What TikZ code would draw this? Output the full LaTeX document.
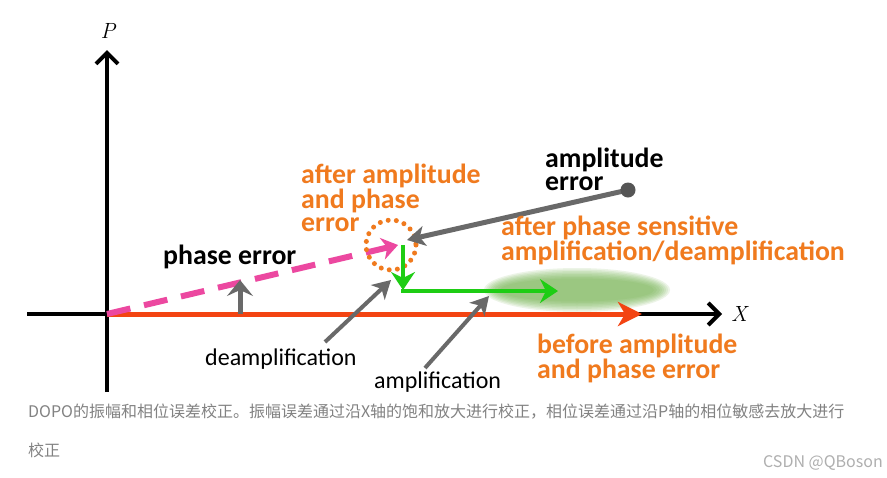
\documentclass[tikz,border=0pt]{standalone}
\usepackage{fontspec}
\setmainfont{Carlito}
\newfontfamily\cjk{Noto Sans CJK SC}
\newfontfamily\lmserif{Latin Modern Roman}
\usetikzlibrary{arrows.meta}
\definecolor{axisblack}{RGB}{0,0,0}
\definecolor{redarr}{RGB}{243,68,18}
\definecolor{pinkarr}{RGB}{236,72,160}
\definecolor{orangetxt}{RGB}{240,122,30}
\definecolor{greenarr}{RGB}{30,205,20}
\definecolor{greyarr}{RGB}{105,105,105}
\definecolor{greydot}{RGB}{85,85,85}
\definecolor{blobgreen}{RGB}{110,175,70}
\definecolor{captiongrey}{RGB}{130,130,130}
\definecolor{markgrey}{RGB}{175,175,175}
\tikzset{
  axisline/.style={line width=4pt,draw=axisblack,-{Straight Barb[length=11pt,width=22pt]}},
  redline/.style={line width=5pt,draw=redarr,-{Stealth[length=24pt,width=24pt,inset=7pt]}},
  pinkline/.style={line width=6pt,draw=pinkarr,dash pattern=on 24pt off 14pt,-{Stealth[length=16pt,width=22pt,inset=5pt]}},
  greenline/.style={line width=4pt,draw=greenarr,-{Stealth[length=18pt,width=24pt,inset=6pt]}},
  greyline/.style={line width=4pt,draw=greyarr,-{Stealth[length=18pt,width=20pt,inset=5pt]}},
  boldlabel/.style={inner sep=0pt,anchor=base west,align=left,font=\fontsize{27.8}{22.5}\selectfont\bfseries},
  reglabel/.style={inner sep=0pt,anchor=base west,font=\fontsize{24}{26}\selectfont},
  axislabel/.style={inner sep=0pt,font=\lmserif\fontsize{22}{24}\selectfont\itshape},
  bloblayer/.style={fill=blobgreen,opacity=0.13},
}
\begin{document}
\begin{tikzpicture}[x=1pt,y=-1pt]
\useasboundingbox[fill=white] (0,0) rectangle (887,477);
% coordinates
\coordinate (O) at (107,314);
\coordinate (Xl) at (27,314);
\coordinate (Xr) at (722,314);
\coordinate (Pb) at (107,392);
\coordinate (Pt) at (107,50);
\coordinate (R) at (642,314);
\coordinate (K) at (398,245);
\coordinate (C) at (391,245);
\coordinate (G1) at (403,245);
\coordinate (G2) at (403,290);
\coordinate (G2b) at (401,291);
\coordinate (G3) at (558,291);
\coordinate (D) at (628,190);
\coordinate (A) at (407,240);
\coordinate (PhB) at (240,314);
\coordinate (PhT) at (240,280);
\coordinate (DeB) at (325,342);
\coordinate (DeT) at (391,280);
\coordinate (AmB) at (425,368);
\coordinate (AmT) at (489,296);
\coordinate (E) at (577,290);
% blurred green blob
\foreach \rx/\ry in {93/22,91/20.5,89/19,87/17.5,85/16,83/14.5,80/13,77/11.5}
  \fill[bloblayer] (E) ellipse [x radius=\rx, y radius=\ry];
% axes
\draw[axisline] (Xl) -- (Xr);
\draw[axisline] (Pb) -- (Pt);
\node[axislabel] (Plab) at (108,31) {P};
\node[axislabel] (Xlab) at (739,314) {X};
% red arrow
\draw[redline] (O) -- (R);
% pink dashed arrow
\draw[pinkline] (O) -- (K);
% dotted circle
\draw[orangetxt,line width=5pt,line cap=round,dash pattern=on 0pt off 8.2pt] (C) circle [radius=25];
% green arrows
\draw[greenline] (G1) -- (G2);
\draw[greenline] (G2b) -- (G3);
% grey arrows
\draw[greyline,line width=5pt] (D) -- (A);
\fill[greydot] (D) circle [radius=7.5];
\draw[greyline,line width=5pt,-{Stealth[length=16pt,width=26pt,inset=6pt]}] (PhB) -- (PhT);
\draw[greyline] (DeB) -- (DeT);
\draw[greyline] (AmB) -- (AmT);
% labels (base anchor = baseline of last line)
\node[boldlabel] (phaseerr) at (163,264) {phase error};
\node[boldlabel,text=orangetxt] (afterap) at (301,231) {after amplitude\\and phase\\error};
\node[boldlabel] (amperr) at (545,190) {amplitude\\error};
\node[boldlabel,text=orangetxt] (afterps) at (501,260) {after phase sensitive\\amplification/deamplification};
\node[boldlabel,text=orangetxt] (before) at (537,378) {before amplitude\\and phase error};
\node[reglabel] (deamp) at (205,365) {deamplification};
\node[reglabel] (amp) at (374,388) {amplification};
% caption
\node[inner sep=0pt,anchor=west,text=captiongrey,font=\cjk\fontsize{16}{18}\selectfont] (cap1) at (28,412) {DOPO的振幅和相位误差校正。振幅误差通过沿X轴的饱和放大进行校正，相位误差通过沿P轴的相位敏感去放大进行};
\node[inner sep=0pt,anchor=west,text=captiongrey,font=\cjk\fontsize{16}{18}\selectfont] (cap2) at (28,450) {校正};
\node[inner sep=0pt,anchor=west,text=markgrey,font=\cjk\fontsize{16}{18}\selectfont] (mark) at (763,463) {CSDN @QBoson};
\end{tikzpicture}
\end{document}
